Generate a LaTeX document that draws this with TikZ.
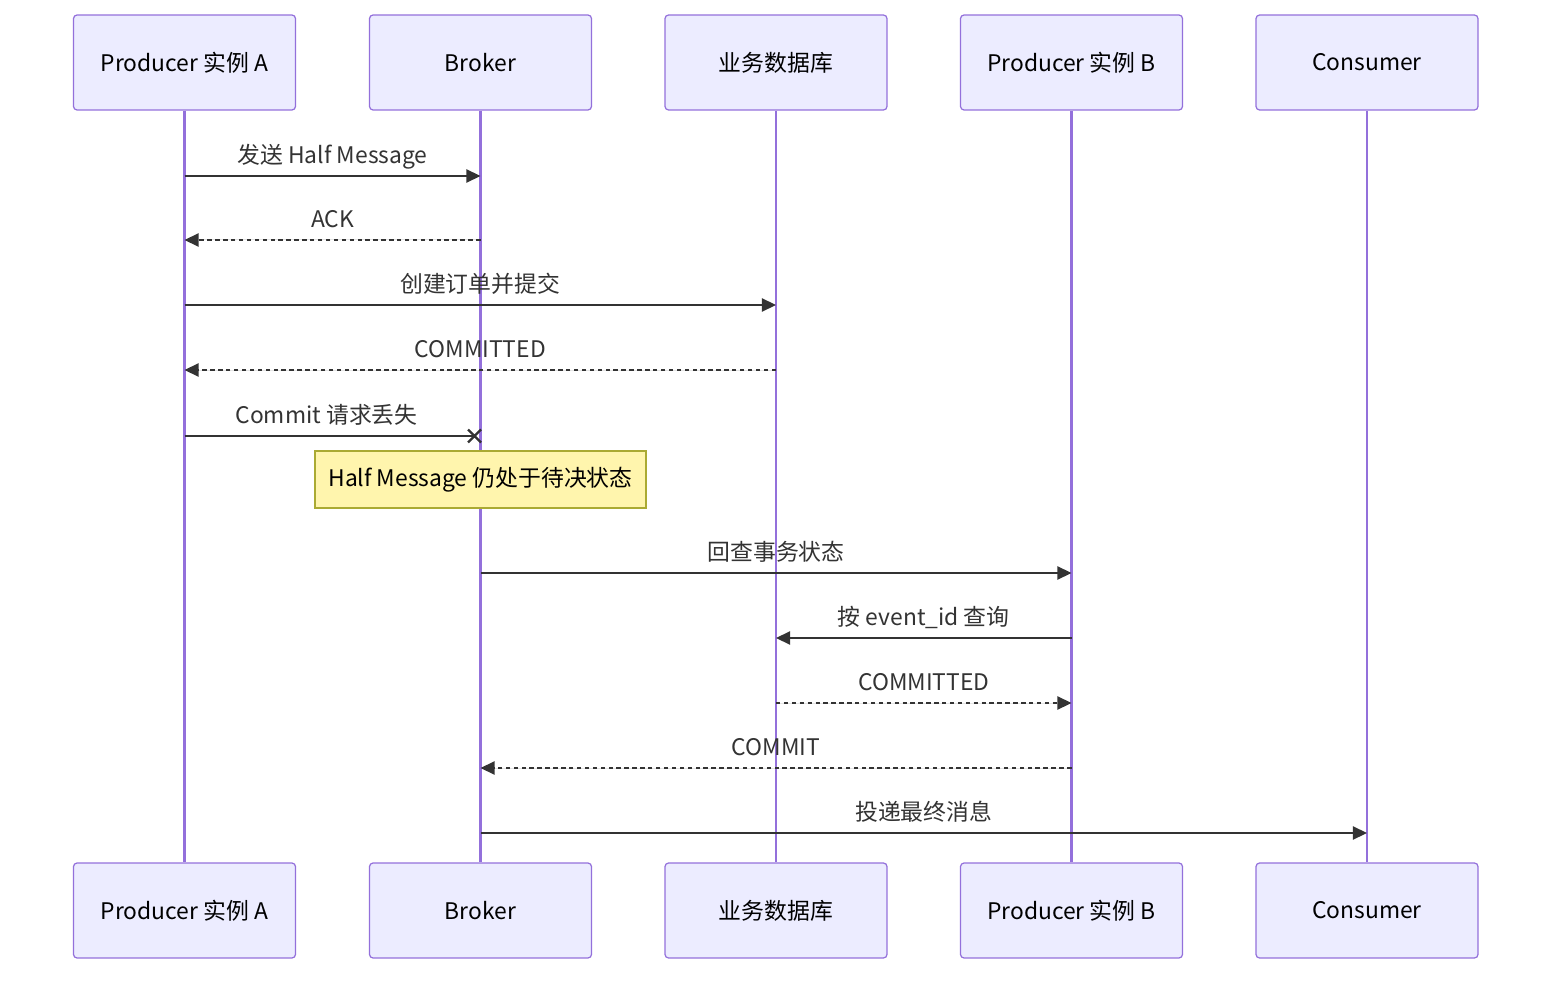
\documentclass[tikz,border=0pt]{standalone}
\usepackage{fontspec}
\setmainfont{Noto Sans CJK SC}
\usetikzlibrary{arrows.meta,shapes.misc}
\definecolor{actfill}{HTML}{ECECFF}
\definecolor{actline}{HTML}{9370DB}
\definecolor{msgline}{HTML}{333333}
\definecolor{notefill}{HTML}{FFF5AD}
\definecolor{noteline}{HTML}{AAAA33}
\newcommand{\seqfont}{\fontsize{13}{15.5}\selectfont}
\tikzstyle{actor} = [draw=actline, line width=0.7pt, fill=actfill, rounded corners=2pt, minimum width=4.44cm, minimum height=1.9cm, inner sep=0pt, text=black, font=\seqfont]
\tikzstyle{life} = [draw=actline, line width=1.4pt]
\tikzstyle{msg} = [style={-{Triangle[length=8pt,width=7.5pt]},draw=msgline,fill=msgline,line width=0.9pt}]
\tikzstyle{rep} = [style={msg,dash pattern=on 2.5pt off 2pt}]
\tikzstyle{lbl} = [anchor=base, yshift=0.26cm, inner sep=0pt, text=msgline, font=\seqfont]
\tikzstyle{crs} = [cross out, draw=msgline, line width=1.4pt, minimum size=6pt, inner sep=0pt]
\tikzstyle{note} = [draw=noteline, line width=0.7pt, fill=notefill, minimum width=6.62cm, minimum height=1.14cm, inner sep=0pt, text=black, font=\seqfont]

\begin{document}
\begin{tikzpicture}[x=0.02cm,y=-0.02cm]
        \useasboundingbox (0,0) rectangle (1568,986);
        % participants
        \node[actor] (pa) at (184.5,62.5) {Producer 实例 A};
        \node[actor] (br) at (480.5,62.5) {Broker};
        \node[actor] (db) at (776,62.5) {业务数据库};
        \node[actor] (pb) at (1071.5,62.5) {Producer 实例 B};
        \node[actor] (cs) at (1367,62.5) {Consumer};
        \node[actor] (pa2) at (184.5,910.5) {Producer 实例 A};
        \node[actor] (br2) at (480.5,910.5) {Broker};
        \node[actor] (db2) at (776,910.5) {业务数据库};
        \node[actor] (pb2) at (1071.5,910.5) {Producer 实例 B};
        \node[actor] (cs2) at (1367,910.5) {Consumer};
        % lifelines
        \draw[life] (pa) -- (pa2);
        \draw[life] (br) -- (br2);
        \draw[life] (db) -- (db2);
        \draw[life] (pb) -- (pb2);
        \draw[life] (cs) -- (cs2);
        % message rows
        \coordinate (m1) at (0,176);
        \coordinate (m2) at (0,240);
        \coordinate (m3) at (0,305);
        \coordinate (m4) at (0,370);
        \coordinate (m5) at (0,436);
        \coordinate (m6) at (0,573);
        \coordinate (m7) at (0,638);
        \coordinate (m8) at (0,703);
        \coordinate (m9) at (0,768);
        \coordinate (m10) at (0,833);
        \draw[msg] (pa |- m1) -- node[lbl] {发送 Half Message} (br |- m1);
        \draw[rep] (br |- m2) -- node[lbl] {ACK} (pa |- m2);
        \draw[msg] (pa |- m3) -- node[lbl] {创建订单并提交} (db |- m3);
        \draw[rep] (db |- m4) -- node[lbl] {COMMITTED} (pa |- m4);
        \node[crs] (lost) at ([xshift=-0.12cm]br |- m5) {};
        \draw[draw=msgline, line width=0.9pt] (pa |- m5) -- node[lbl, xshift=-0.06cm] {Commit 请求丢失} (lost.center);
        \node[note] (half) at (480.5,479.5) {Half Message 仍处于待决状态};
        \draw[msg] (br |- m6) -- node[lbl] {回查事务状态} (pb |- m6);
        \draw[msg] (pb |- m7) -- node[lbl] {按 event\_id 查询} (db |- m7);
        \draw[rep] (db |- m8) -- node[lbl] {COMMITTED} (pb |- m8);
        \draw[rep] (pb |- m9) -- node[lbl] {COMMIT} (br |- m9);
        \draw[msg] (br |- m10) -- node[lbl] {投递最终消息} (cs |- m10);
      \end{tikzpicture}
\end{document}
